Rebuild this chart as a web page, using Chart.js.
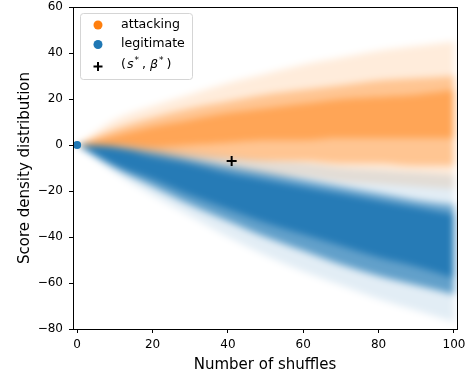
<!DOCTYPE html>
<html>
<head>
<meta charset="utf-8">
<script src="https://cdn.jsdelivr.net/npm/chart.js@4"></script>
<style>
  html, body { margin: 0; padding: 0; background: #fff; }
</style>
</head>
<body>
<canvas id="scoreChart" width="471" height="380"></canvas>
<script>
const shuffles = [0, 10, 20, 30, 40, 50, 60, 70, 80, 90, 100];
const xTicks = [0, 20, 40, 60, 80, 100];

// attacking: edges of the density cloud, top to bottom
const attackFaintTop  = [0, 11, 17, 22, 27, 31, 35, 38, 41, 43, 45];
const attackMidTop    = [0, 7, 12, 16, 19, 22, 24, 26, 28, 29, 30];
const attackCoreTop   = [0, 4, 8, 11, 14, 16, 18, 20, 21, 22, 24];
const attackCoreBot   = [0, 0, -1, 0, 1, 2, 2, 3, 3, 3, 3];
const attackMidBot    = [0, -2, -4, -5, -6, -7, -7, -8, -8, -9, -9];
const attackFaintBot  = [0, -4, -7, -9, -11, -13, -14, -16, -17, -18, -19];

// legitimate: edges of the density cloud, top to bottom
const legitFaintTop = [0, 1, -1, -3, -5, -7, -8, -10, -11, -12, -13];
const legitMidTop   = [0, -1, -3, -6, -9, -12, -15, -18, -21, -24, -26];
const legitCoreTop  = [0, -1, -5, -8, -12, -15, -18, -21, -24, -27, -30];
const legitCoreBot  = [0, -9, -15, -22, -28, -34, -39, -44, -49, -53, -58];
const legitMidBot   = [0, -10, -18, -26, -33, -40, -46, -52, -57, -61, -65];
const legitFaintBot = [0, -12, -22, -31, -40, -48, -55, -61, -67, -72, -77];

// chosen point (s*, beta*)
const sStar = [41];
const betaStar = [-7];

const ORANGE = '255, 127, 14';
const BLUE = '31, 119, 180';
const FONT = '"DejaVu Sans", sans-serif';

function toPoints(values) {
    return shuffles.map((x, i) => ({ x: x, y: values[i] }));
}

// each edge fills down to the previous one, so the gaps become bands
function bandSets(edges, rgb, alphas, order) {
    return edges.map((vals, i) => ({
        data: toPoints(vals),
        borderWidth: 0,
        pointRadius: 0,
        cubicInterpolationMode: 'monotone',
        fill: i === 0 ? false : '-1',
        backgroundColor: i === 0 ? 'rgba(0,0,0,0)' : 'rgba(' + rgb + ', ' + alphas[i - 1] + ')',
        order: order
    }));
}

const datasets = [].concat(
    bandSets([attackFaintTop, attackMidTop, attackCoreTop, attackCoreBot, attackMidBot, attackFaintBot],
        ORANGE, [0.15, 0.45, 0.7, 0.45, 0.15], 3),
    bandSets([legitFaintTop, legitMidTop, legitCoreTop, legitCoreBot, legitMidBot, legitFaintBot],
        BLUE, [0.13, 0.65, 0.97, 0.7, 0.13], 2),
    [{
        type: 'scatter',
        data: [{ x: shuffles[0], y: legitCoreTop[0] }],
        pointRadius: 4,
        pointBackgroundColor: 'rgb(' + BLUE + ')',
        pointBorderWidth: 0,
        order: 1,
        crisp: true
    }, {
        type: 'scatter',
        data: [{ x: sStar[0], y: betaStar[0] }],
        pointStyle: 'cross',
        pointRadius: 5,
        pointBorderWidth: 2,
        pointBorderColor: '#000',
        order: 0,
        crisp: true
    }]
);

// box blur on the plot area pixels (canvas must be opaque)
function blurRegion(ctx, x0, y0, w, h, r, passes) {
    const img = ctx.getImageData(x0, y0, w, h);
    const src = img.data;
    let a = new Float32Array(w * h * 3);
    let b = new Float32Array(w * h * 3);
    for (let i = 0, j = 0; i < src.length; i += 4, j += 3) {
        a[j] = src[i]; a[j + 1] = src[i + 1]; a[j + 2] = src[i + 2];
    }
    const pass = (inp, out, horizontal) => {
        const n = horizontal ? w : h;
        const m = horizontal ? h : w;
        const norm = 1 / (2 * r + 1);
        for (let line = 0; line < m; line++) {
            const idx = k => (horizontal ? line * w + k : k * w + line) * 3;
            for (let c = 0; c < 3; c++) {
                let sum = 0;
                for (let k = -r; k <= r; k++) sum += inp[idx(Math.min(n - 1, Math.max(0, k))) + c];
                for (let k = 0; k < n; k++) {
                    out[idx(k) + c] = sum * norm;
                    sum += inp[idx(Math.min(n - 1, k + r + 1)) + c] - inp[idx(Math.max(0, k - r)) + c];
                }
            }
        }
    };
    for (let p = 0; p < passes; p++) {
        pass(a, b, true);
        pass(b, a, false);
    }
    for (let i = 0, j = 0; i < src.length; i += 4, j += 3) {
        src[i] = a[j]; src[i + 1] = a[j + 1]; src[i + 2] = a[j + 2]; src[i + 3] = 255;
    }
    ctx.putImageData(img, x0, y0);
}

// soft edges for the clouds, crisp markers on top, then the frame
const softBands = {
    id: 'softBands',
    beforeDraw(chart) {
        const ctx = chart.ctx;
        ctx.save();
        ctx.fillStyle = '#fff';
        ctx.fillRect(0, 0, chart.width, chart.height);
        ctx.restore();
    },
    beforeDatasetsDraw(chart) {
        chart.$blurred = false;
    },
    beforeDatasetDraw(chart, args) {
        if (chart.data.datasets[args.index].crisp && !chart.$blurred) {
            const a = chart.chartArea;
            const x0 = Math.round(a.left) + 1, y0 = Math.round(a.top) + 1;
            blurRegion(chart.ctx, x0, y0, Math.round(a.right) - x0, Math.round(a.bottom) - y0, 3, 3);
            chart.$blurred = true;
        }
    },
    afterDatasetsDraw(chart) {
        const a = chart.chartArea;
        const ctx = chart.ctx;
        ctx.save();
        ctx.strokeStyle = '#000';
        ctx.lineWidth = 1;
        const l = Math.round(a.left) + 0.5, t = Math.round(a.top) + 0.5;
        const r = Math.round(a.right) + 0.5, b = Math.round(a.bottom) + 0.5;
        ctx.strokeRect(l, t, r - l, b - t);
        ctx.restore();
    }
};

const legendBox = {
    id: 'legendBox',
    afterDraw(chart) {
        const ctx = chart.ctx;
        ctx.save();
        ctx.beginPath();
        ctx.roundRect(80.5, 13.5, 112, 66, 3);
        ctx.fillStyle = 'rgba(255,255,255,0.8)';
        ctx.fill();
        ctx.strokeStyle = '#d5d5d5';
        ctx.lineWidth = 1;
        ctx.stroke();

        ctx.fillStyle = 'rgb(' + ORANGE + ')';
        ctx.beginPath(); ctx.arc(98, 25, 4.5, 0, Math.PI * 2); ctx.fill();
        ctx.fillStyle = 'rgb(' + BLUE + ')';
        ctx.beginPath(); ctx.arc(98, 44.5, 4.5, 0, Math.PI * 2); ctx.fill();
        ctx.strokeStyle = '#000';
        ctx.lineWidth = 2;
        ctx.beginPath();
        ctx.moveTo(93.5, 66.5); ctx.lineTo(102.5, 66.5);
        ctx.moveTo(98, 62); ctx.lineTo(98, 71);
        ctx.stroke();

        ctx.fillStyle = '#000';
        ctx.textBaseline = 'middle';
        ctx.font = '12.6px ' + FONT;
        ctx.fillText('attacking', 121, 25);
        ctx.fillText('legitimate', 121, 44);

        // (s*, β*) in math style
        let x = 121;
        const y = 65;
        const parts = [
            ['(', '12.6px ' + FONT, 0, 1],
            ['s', 'italic 12.6px ' + FONT, 0, 1],
            ['*', '9px ' + FONT, -4, 3],
            [',', '12.6px ' + FONT, 0, 4],
            ['β', 'italic 12.6px ' + FONT, 0, 1],
            ['*', '9px ' + FONT, -4, 3],
            [')', '12.6px ' + FONT, 0, 0]
        ];
        parts.forEach(p => {
            ctx.font = p[1];
            ctx.fillText(p[0], x, y + p[2]);
            x += ctx.measureText(p[0]).width + p[3];
        });
        ctx.restore();
    }
};

const minus = v => (v < 0 ? '\u2212' + Math.abs(v) : String(v));

new Chart(document.getElementById('scoreChart'), {
    type: 'line',
    data: { datasets: datasets },
    options: {
        responsive: false,
        animation: false,
        events: [],
        layout: { padding: { left: 0, top: 7, right: 14, bottom: 0 } },
        plugins: { legend: { display: false }, tooltip: { enabled: false } },
        scales: {
            x: {
                type: 'linear',
                min: -1.1,
                max: 100.8,
                afterBuildTicks: s => { s.ticks = xTicks.map(v => ({ value: v })); },
                afterFit: s => { s.height = 51; },
                border: { display: false },
                grid: { drawOnChartArea: false, tickLength: 4, color: '#000', tickWidth: 1 },
                ticks: { color: '#000', padding: 5, maxRotation: 0, font: { family: FONT, size: 12 }, callback: minus },
                title: { display: true, text: 'Number of shuffles', color: '#000',
                    font: { family: FONT, size: 15 }, padding: { top: 0, bottom: 6 } }
            },
            y: {
                min: -80,
                max: 60,
                afterFit: s => { s.width = 73; },
                border: { display: false },
                grid: { drawOnChartArea: false, tickLength: 4, color: '#000', tickWidth: 1 },
                ticks: { color: '#000', stepSize: 20, padding: 6,
                    font: { family: FONT, size: 12, lineHeight: 0.1 }, callback: minus },
                title: { display: true, text: 'Score density distribution', color: '#000',
                    font: { family: FONT, size: 15 }, padding: { top: 16, bottom: 0 } }
            }
        }
    },
    plugins: [softBands, legendBox]
});
</script>
</body>
</html>
